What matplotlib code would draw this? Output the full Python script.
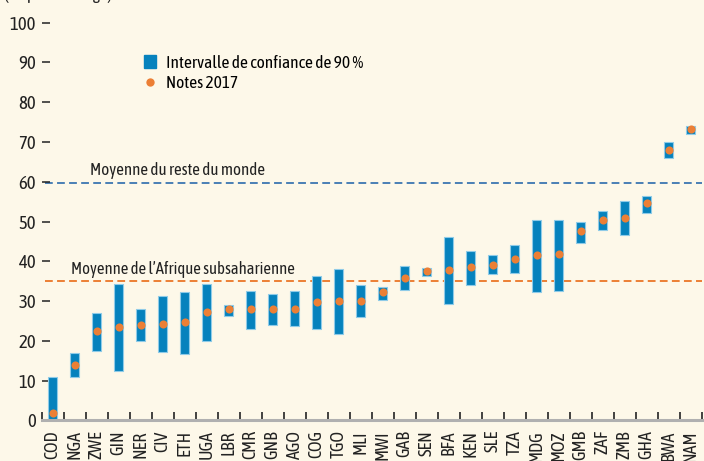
import numpy as np
import matplotlib
matplotlib.use("Agg")
import matplotlib.pyplot as plt
from matplotlib.lines import Line2D
from matplotlib.patches import Patch

# Données (notes 2017 et intervalle de confiance de 90 %)
pays = ["COD", "NGA", "ZWE", "GIN", "NER", "CIV", "ETH", "UGA", "LBR", "CMR",
        "GNB", "AGO", "COG", "TGO", "MLI", "MWI", "GAB", "SEN", "BFA", "KEN",
        "SLE", "TZA", "MDG", "MOZ", "GMB", "ZAF", "ZMB", "GHA", "BWA", "NAM"]
notes = [1.8, 14.0, 22.4, 23.6, 24.1, 24.3, 24.8, 27.2, 27.9, 27.9,
         28.1, 28.1, 29.8, 30.1, 30.1, 32.2, 35.8, 37.5, 37.7, 38.5,
         39.1, 40.6, 41.6, 41.8, 47.6, 50.5, 51.0, 54.6, 68.0, 73.3]
ic_bas = [0.0, 10.9, 17.5, 12.4, 19.9, 17.2, 16.8, 19.9, 26.3, 22.9,
          23.9, 23.7, 22.9, 21.8, 26.0, 30.4, 32.7, 36.3, 29.2, 34.1,
          36.7, 37.0, 32.3, 32.6, 44.7, 48.0, 46.5, 52.2, 65.9, 72.0]
ic_haut = [10.9, 17.0, 27.0, 34.3, 28.0, 31.3, 32.3, 34.3, 29.1, 32.5,
           31.8, 32.5, 36.3, 38.0, 34.0, 33.5, 38.8, 38.3, 46.0, 42.6,
           41.5, 44.1, 50.4, 50.5, 50.0, 52.7, 55.1, 56.3, 70.0, 74.1]
moy_monde = 59.8
moy_afrique = 35.0

FOND = "#fdf8e9"
BLEU = "#0682bd"
ORANGE = "#ec7f35"
# polices étroites (proches de l'original), avec repli
POLICE = ["Asap Condensed", "Barlow Semi Condensed", "DejaVu Sans"]

plt.rcParams["font.family"] = POLICE

fig = plt.figure(figsize=(7.04, 4.61), dpi=100, facecolor=FOND)
ax = fig.add_axes([0.0592, 0.0879, 0.9375, 0.863])
ax.set_facecolor(FOND)

x = np.arange(len(pays))
bas = np.array(ic_bas)
haut = np.array(ic_haut)
ax.bar(x, haut - bas, bottom=bas, width=0.4, color=BLEU,
       edgecolor="#8fcbe8", linewidth=0.8, zorder=2)
ax.scatter(x, notes, s=34, color=ORANGE, zorder=3, linewidths=0)

# lignes de moyenne
ax.axhline(moy_monde, xmin=0.005, color="#4a7fb5", linestyle=(0, (4, 2.2)),
           linewidth=1.4, zorder=1)
ax.axhline(moy_afrique, xmin=0.005, color=ORANGE, linestyle=(0, (4, 2.2)),
           linewidth=1.4, zorder=1)
ax.text(1.7, moy_monde + 0.8, "Moyenne du reste du monde", fontsize=12.2,
        color="#222222", va="bottom", ha="left")
ax.text(0.85, moy_afrique + 0.9, "Moyenne de l\u2019Afrique subsaharienne",
        fontsize=12, color="#222222", va="bottom", ha="left")

ax.set_xlim(-0.5, len(pays) - 0.5)
ax.set_ylim(0, 100)

for s in ["top", "right", "left"]:
    ax.spines[s].set_visible(False)
ax.spines["bottom"].set_color("#b0b0b0")
ax.spines["bottom"].set_linewidth(2.2)
ax.spines["bottom"].set_zorder(4)

ax.set_yticks(np.arange(0, 101, 10))
ax.tick_params(axis="y", direction="in", length=6, width=1.1, pad=4,
               labelsize=13.5, colors="#222222")
ax.set_xticks(x)
ax.set_xticklabels(pays, rotation=90, fontsize=13)
ax.tick_params(axis="x", length=0, pad=7, colors="#222222")
ax.set_xticks(np.arange(-0.5, len(pays), 1), minor=True)
ax.tick_params(axis="x", which="minor", direction="in", length=6, width=1.3,
               color="#333333")

legende = [Patch(facecolor=BLEU, edgecolor=BLEU, label="Intervalle de confiance de 90 %"),
           Line2D([], [], marker="o", linestyle="none", markersize=6,
                  markerfacecolor=ORANGE, markeredgewidth=0, label="Notes 2017")]
ax.legend(handles=legende, loc="upper left", bbox_to_anchor=(0.145, 0.937),
          frameon=False, fontsize=12.5, handlelength=0.7, handleheight=0.8,
          handletextpad=0.55, labelspacing=0.2, borderaxespad=0)

# titre d'unité, coupé en haut comme sur l'original
fig.text(0.005, 1.003, "(en pourcentage)", fontsize=12.5, color="#222222",
         ha="left", va="baseline")

fig.savefig("out.png", dpi=100, facecolor=FOND)
